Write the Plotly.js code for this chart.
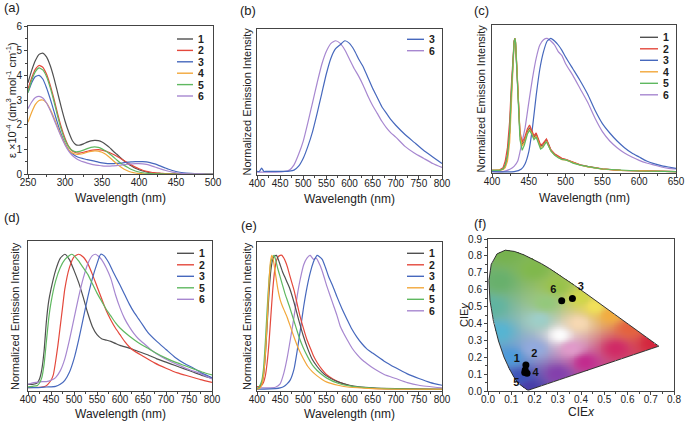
<!DOCTYPE html>
<html><head><meta charset="utf-8">
<script src="https://cdn.plot.ly/plotly-3.0.1.min.js"></script>
<style>html,body{margin:0;padding:0;background:#fff}#chart{width:685px;height:424px}</style>
</head><body><div id="chart"></div>
<script>
// ---------- (a) absorption ----------
const aX = [250,255,260,265,270,275,280,285,290,295,300,305,310,315,320,325,330,335,340,345,350,355,360,365,370,375,380,385,390,395,400,405,410,415,420,425,430,435,440,445,450,460,470,480,490,500];
const a1 = [3.7,4.2,4.6,4.85,4.9,4.75,4.4,3.9,3.3,2.7,2.15,1.7,1.35,1.18,1.17,1.22,1.29,1.34,1.36,1.35,1.3,1.2,1.08,0.93,0.8,0.66,0.53,0.42,0.32,0.23,0.17,0.12,0.08,0.05,0.035,0.025,0.02,0.015,0.01,0.01,0.01,0.005,0,0,0,0];
const a2 = [3.45,3.9,4.25,4.4,4.33,4.05,3.6,3.05,2.45,1.9,1.45,1.12,0.93,0.86,0.85,0.88,0.92,0.96,0.98,0.99,0.97,0.93,0.87,0.8,0.72,0.63,0.54,0.45,0.36,0.28,0.21,0.15,0.11,0.08,0.055,0.04,0.03,0.02,0.015,0.01,0.01,0.005,0,0,0,0];
const a3 = [3.3,3.7,3.95,4.0,3.85,3.5,3.05,2.55,2.05,1.6,1.25,0.98,0.82,0.72,0.66,0.62,0.58,0.55,0.52,0.48,0.45,0.43,0.42,0.42,0.43,0.44,0.46,0.48,0.49,0.5,0.5,0.5,0.49,0.46,0.42,0.37,0.31,0.25,0.19,0.14,0.1,0.05,0.025,0.01,0.005,0];
const a4 = [2.1,2.5,2.82,2.98,3.0,2.88,2.62,2.28,1.9,1.53,1.22,0.98,0.85,0.8,0.8,0.83,0.88,0.92,0.94,0.93,0.88,0.8,0.68,0.55,0.41,0.29,0.19,0.12,0.07,0.04,0.02,0.01,0,0,0,0,0,0,0,0,0,0,0,0,0,0];
const a5 = [3.3,3.8,4.15,4.3,4.22,3.95,3.5,2.95,2.35,1.8,1.38,1.1,0.95,0.9,0.92,0.97,1.03,1.08,1.1,1.08,1.02,0.93,0.82,0.7,0.57,0.45,0.35,0.26,0.18,0.12,0.08,0.05,0.03,0.02,0.01,0.005,0.005,0,0,0,0,0,0,0,0,0];
const a6 = [2.65,2.92,3.1,3.15,3.08,2.88,2.58,2.22,1.85,1.5,1.18,0.93,0.75,0.63,0.55,0.49,0.44,0.4,0.37,0.35,0.33,0.32,0.32,0.33,0.34,0.36,0.38,0.4,0.41,0.42,0.42,0.41,0.39,0.35,0.3,0.25,0.2,0.15,0.11,0.075,0.05,0.02,0.01,0.005,0,0];

// ---------- (b) emission 3, 6 ----------
const b3x = [400,405,410,415,420,440,460,470,480,490,500,510,520,530,540,550,560,570,580,590,600,610,620,630,640,650,660,670,680,690,700,720,740,760,780,800];
const b3y = [0.01,0.01,0.035,0.01,0.01,0.01,0.01,0.012,0.02,0.05,0.11,0.2,0.31,0.45,0.6,0.75,0.87,0.94,0.97,1.0,0.98,0.93,0.86,0.8,0.72,0.64,0.57,0.5,0.45,0.4,0.36,0.29,0.23,0.17,0.12,0.07];
const b6x = [400,420,440,460,470,480,490,500,510,520,530,540,550,560,570,580,590,600,610,620,630,640,650,660,670,680,690,700,720,740,760,780,800];
const b6y = [0.005,0.005,0.005,0.01,0.02,0.06,0.14,0.24,0.38,0.53,0.68,0.82,0.92,0.98,1.0,0.98,0.93,0.86,0.79,0.73,0.66,0.58,0.51,0.45,0.39,0.34,0.30,0.27,0.2,0.15,0.11,0.07,0.04];

// ---------- (c) emission 1-6 ----------
const cXs = [400,410,415,418,421,424,426,428,430,431,432,434,436,438,441,444,448,451,454,457,460,463,466,469,472,474,477,480,485,490,495,500,505,510,520,530,540,550,575,600,650];
const c1 = [0.01,0.01,0.02,0.05,0.12,0.3,0.55,0.8,0.97,1.0,0.97,0.75,0.45,0.28,0.2,0.23,0.3,0.33,0.3,0.26,0.28,0.24,0.19,0.2,0.23,0.24,0.2,0.16,0.13,0.11,0.095,0.09,0.08,0.065,0.05,0.038,0.03,0.02,0.01,0.005,0.0];
const c2 = [0.01,0.012,0.03,0.08,0.18,0.38,0.62,0.85,0.98,1.0,0.96,0.74,0.46,0.3,0.22,0.25,0.32,0.35,0.31,0.27,0.29,0.25,0.2,0.21,0.235,0.245,0.205,0.165,0.135,0.115,0.1,0.092,0.082,0.067,0.052,0.04,0.031,0.021,0.01,0.005,0.0];
const c4 = [0.01,0.01,0.015,0.03,0.08,0.22,0.47,0.76,0.96,1.0,0.98,0.77,0.46,0.28,0.19,0.22,0.29,0.32,0.29,0.25,0.27,0.23,0.18,0.19,0.22,0.23,0.19,0.155,0.125,0.105,0.09,0.088,0.078,0.063,0.048,0.036,0.028,0.019,0.01,0.005,0.0];
const c5 = [0.01,0.01,0.02,0.05,0.12,0.3,0.56,0.8,0.97,1.0,0.97,0.73,0.42,0.24,0.16,0.2,0.28,0.31,0.28,0.24,0.26,0.22,0.17,0.18,0.21,0.225,0.19,0.155,0.125,0.105,0.092,0.088,0.078,0.064,0.049,0.037,0.029,0.02,0.01,0.005,0.0];
const c3x = [400,430,440,445,450,455,460,465,470,475,480,485,490,495,500,510,520,530,540,550,560,570,580,590,600,610,620,630,640,650];
const c3 = [0.0,0.0,0.02,0.06,0.15,0.33,0.57,0.77,0.9,0.98,1.0,0.98,0.95,0.91,0.86,0.77,0.68,0.58,0.46,0.36,0.29,0.23,0.18,0.14,0.11,0.08,0.06,0.045,0.035,0.025];
const c6x = [400,415,425,430,435,440,445,450,455,460,465,470,475,480,485,490,495,500,510,520,530,540,550,560,570,580,590,600,610,620,630,640,650];
const c6 = [0.0,0.0,0.02,0.04,0.08,0.2,0.33,0.52,0.7,0.85,0.95,0.99,1.0,0.98,0.95,0.9,0.87,0.81,0.72,0.62,0.52,0.4,0.3,0.23,0.18,0.14,0.11,0.085,0.065,0.05,0.035,0.025,0.02];

// ---------- (d) emission 1,2,3,5,6 ----------
const d1x = [400,410,420,425,430,435,440,445,450,460,470,480,490,500,510,520,530,540,550,560,570,580,590,600,620,640,660,680,700,720,740,760,780,800];
const d1 = [0.03,0.03,0.04,0.07,0.14,0.28,0.5,0.65,0.74,0.88,0.97,1.0,0.96,0.88,0.79,0.68,0.56,0.46,0.40,0.37,0.36,0.35,0.335,0.32,0.3,0.275,0.25,0.22,0.195,0.17,0.145,0.12,0.095,0.075];
const d2x = [400,430,440,450,455,460,465,470,475,480,490,500,510,520,530,540,550,560,570,580,590,600,610,620,630,650,675,700,725,750,775,800];
const d2 = [0.005,0.01,0.02,0.06,0.1,0.2,0.32,0.46,0.6,0.74,0.9,0.98,1.0,0.98,0.93,0.85,0.76,0.67,0.58,0.51,0.45,0.40,0.35,0.31,0.28,0.24,0.19,0.15,0.115,0.09,0.065,0.045];
const d3x = [400,420,440,460,470,480,490,500,510,520,530,540,550,558,565,575,585,600,610,620,630,640,650,660,680,700,720,740,760,780,800];
const d3 = [0.005,0.005,0.01,0.015,0.03,0.06,0.12,0.22,0.36,0.52,0.68,0.82,0.93,1.0,0.99,0.94,0.87,0.77,0.7,0.63,0.57,0.52,0.47,0.42,0.35,0.29,0.23,0.185,0.15,0.11,0.08];
const d5x = [400,410,420,425,430,435,440,445,450,460,470,480,490,495,500,510,520,530,540,550,560,570,580,590,600,620,640,660,680,700,720,740,760,780,800];
const d5 = [0.01,0.015,0.02,0.04,0.08,0.18,0.35,0.52,0.64,0.8,0.9,0.96,0.99,1.0,0.99,0.95,0.9,0.85,0.78,0.71,0.65,0.59,0.54,0.49,0.45,0.39,0.34,0.3,0.26,0.225,0.195,0.17,0.145,0.12,0.1];
const d6x = [400,410,420,430,440,450,460,470,480,490,500,510,520,530,540,547,555,560,570,580,590,600,610,620,630,640,650,670,690,710,730,750,775,800];
const d6 = [0.03,0.04,0.045,0.05,0.05,0.06,0.08,0.13,0.22,0.36,0.52,0.68,0.82,0.93,0.99,1.0,0.98,0.96,0.9,0.82,0.7,0.6,0.52,0.46,0.41,0.37,0.34,0.28,0.235,0.2,0.17,0.14,0.11,0.07];

// ---------- (e) emission 1-6 ----------
const e1x = [400,405,410,414,418,422,426,430,434,438,442,446,450,455,460,465,470,480,490,500,510,520,530,540,550,575,600,650,700,800];
const e1 = [0.0,0.01,0.04,0.1,0.25,0.48,0.72,0.89,0.97,0.995,1.0,0.97,0.93,0.88,0.84,0.8,0.76,0.65,0.52,0.4,0.3,0.22,0.17,0.13,0.1,0.055,0.03,0.01,0.004,0];
const e2x = [400,405,410,414,418,422,426,430,434,438,442,446,450,454,458,462,466,470,475,480,486,492,500,508,515,522,530,540,550,565,580,600,620,650,700,800];
const e2 = [0.02,0.02,0.03,0.05,0.1,0.2,0.35,0.55,0.74,0.88,0.96,0.99,1.0,1.0,0.98,0.95,0.91,0.86,0.8,0.74,0.65,0.56,0.46,0.37,0.31,0.25,0.2,0.15,0.11,0.075,0.05,0.028,0.015,0.007,0.002,0];
const e3x = [400,440,450,458,465,472,480,487,494,501,508,515,522,526,530,535,541,548,555,564,573,584,595,605,616,627,638,650,675,700,725,750,775,800];
const e3 = [0.0,0.005,0.01,0.02,0.04,0.07,0.15,0.29,0.45,0.62,0.76,0.87,0.95,0.98,1.0,0.99,0.97,0.91,0.84,0.77,0.69,0.6,0.52,0.45,0.39,0.34,0.3,0.27,0.21,0.16,0.115,0.08,0.05,0.03];
const e4x = [400,405,410,414,418,422,426,429,432,435,440,445,450,455,460,465,470,480,490,500,510,520,530,540,550,575,600,650,700,800];
const e4 = [0.0,0.005,0.03,0.1,0.26,0.5,0.8,0.95,1.0,0.97,0.86,0.75,0.67,0.62,0.58,0.54,0.49,0.39,0.3,0.23,0.17,0.13,0.1,0.075,0.055,0.03,0.015,0.005,0,0];
const e5x = [400,405,410,414,418,422,426,430,434,437,440,445,450,455,460,465,470,480,490,500,510,520,530,540,550,575,600,650,700,800];
const e5 = [0.0,0.02,0.06,0.15,0.35,0.6,0.82,0.95,0.99,1.0,0.97,0.9,0.84,0.78,0.72,0.67,0.62,0.51,0.4,0.31,0.24,0.18,0.14,0.11,0.085,0.045,0.025,0.008,0.003,0];
const e6x = [400,420,440,450,458,465,472,480,487,494,501,508,515,522,528,537,544,551,558,566,573,580,587,595,605,616,627,638,650,675,700,725,750,800];
const e6 = [0.01,0.01,0.015,0.04,0.12,0.23,0.37,0.54,0.7,0.83,0.93,0.98,1.0,0.97,0.98,0.92,0.85,0.77,0.7,0.62,0.55,0.47,0.42,0.37,0.31,0.26,0.22,0.19,0.16,0.11,0.08,0.05,0.03,0.01];

// ---------- (f) CIE 1931 ----------
const cieLabels = ['1','2','3','4','5','6'];
const cieX = [0.160,0.163,0.363,0.168,0.158,0.317];
const cieY = [0.125,0.154,0.547,0.105,0.110,0.535];
const locusX = [0.1741,0.1733,0.1714,0.1689,0.1644,0.1566,0.1440,0.1355,0.1241,0.1096,0.0913,0.0687,0.0454,0.0235,0.0082,0.0039,0.0139,0.0389,0.0743,0.1142,0.1547,0.1929,0.2296,0.2658,0.3016,0.3373,0.3731,0.4087,0.4441,0.4788,0.5125,0.5448,0.5752,0.6029,0.6270,0.6482,0.6658,0.6915,0.7079,0.7190,0.7260,0.7300,0.7334,0.7347];
const locusY = [0.0050,0.0048,0.0051,0.0069,0.0109,0.0177,0.0297,0.0399,0.0578,0.0868,0.1327,0.2007,0.2950,0.4127,0.5384,0.6548,0.7502,0.8120,0.8338,0.8262,0.8059,0.7816,0.7543,0.7243,0.6923,0.6589,0.6245,0.5896,0.5547,0.5202,0.4866,0.4544,0.4242,0.3965,0.3725,0.3514,0.3340,0.3083,0.2920,0.2809,0.2740,0.2700,0.2666,0.2653];

// ---------- styles ----------
const W = 685, H = 424;
const FONT = 'Liberation Sans, Arial, sans-serif';
const COL = {'1':'#505050','2':'#e4483c','3':'#4668bd','4':'#f2a73a','5':'#5fb860','6':'#a787d0'};
const AX = '#444';
const P = {
  a:{l:28,r:213,t:26,b:174}, b:{l:257,r:442,t:29,b:175}, c:{l:492,r:676,t:25,b:173},
  d:{l:28,r:212,t:241,b:391}, e:{l:257,r:442,t:242,b:391}, f:{l:488,r:674,t:239,b:391}
};
const ids = {a:['x','y'], b:['x2','y2'], c:['x3','y3'], d:['x4','y4'], e:['x5','y5'], f:['x6','y6']};

const traces = [];
function addLine(p, x, y, key, shape){
  traces.push({type:'scatter', mode:'lines', x:x, y:y, xaxis:ids[p][0], yaxis:ids[p][1],
    line:{color:COL[key], width:1.2, shape:shape||'spline', smoothing:0.5}, hoverinfo:'skip', showlegend:false});
}
[[a1,'1'],[a2,'2'],[a3,'3'],[a4,'4'],[a5,'5'],[a6,'6']].forEach(s=>addLine('a', aX, s[0], s[1]));
addLine('b', b6x, b6y, '6'); addLine('b', b3x, b3y, '3');
addLine('c', c6x, c6, '6'); addLine('c', c3x, c3, '3');
[[c1,'1'],[c2,'2'],[c4,'4'],[c5,'5']].forEach(s=>addLine('c', cXs, s[0], s[1], 'linear'));
addLine('d', d1x, d1, '1'); addLine('d', d2x, d2, '2'); addLine('d', d6x, d6, '6'); addLine('d', d3x, d3, '3'); addLine('d', d5x, d5, '5');
addLine('e', e6x, e6, '6'); addLine('e', e3x, e3, '3'); addLine('e', e2x, e2, '2'); addLine('e', e1x, e1, '1'); addLine('e', e5x, e5, '5'); addLine('e', e4x, e4, '4');

// (f) chromaticity fill (background colouring)
const ANCH = [
 [0.08,0.82,118,178,78],[0.2,0.72,128,184,76],[0.3,0.62,152,194,74],[0.4,0.55,208,214,74],
 [0.46,0.5,240,224,90],[0.53,0.45,242,172,64],[0.61,0.37,228,98,62],[0.71,0.285,212,38,62],
 [0.55,0.25,208,42,102],[0.42,0.17,194,44,142],[0.3,0.1,132,64,172],[0.18,0.02,72,62,168],
 [0.14,0.08,62,84,184],[0.1,0.2,76,154,218],[0.05,0.35,86,180,210],[0.02,0.5,96,180,160],
 [0.05,0.65,104,176,108],[0.31,0.33,252,252,252],[0.22,0.42,158,206,200],[0.39,0.4,246,216,178],
 [0.36,0.25,224,154,202],[0.2,0.25,146,170,222],[0.25,0.52,148,200,124]
];
function insideLocus(px,py){
  let c=false; const n=locusX.length;
  for(let i=0,j=n-1;i<n;j=i++){
    const xi=locusX[i], yi=locusY[i], xj=locusX[j], yj=locusY[j];
    if(((yi>py)!==(yj>py)) && (px < (xj-xi)*(py-yi)/(yj-yi)+xi)) c=!c;
  }
  return c;
}
const STEP = 0.004, NX = 186, NY = 213;
const img = [];
for(let j=0;j<NY;j++){
  const row=[]; const yy = STEP/2 + j*STEP;
  for(let i=0;i<NX;i++){
    const xx = STEP/2 + i*STEP;
    if(!insideLocus(xx,yy)){ row.push([255,255,255,0]); continue; }
    let ws=0,r=0,g=0,b=0;
    for(const a of ANCH){
      const d2=(xx-a[0])*(xx-a[0])+(yy-a[1])*(yy-a[1])+1e-5;
      const w=1/Math.pow(d2,1.3); ws+=w; r+=w*a[2]; g+=w*a[3]; b+=w*a[4];
    }
    row.push([r/ws,g/ws,b/ws,1]);
  }
  img.push(row);
}
traces.push({type:'image', z:img, colormodel:'rgba', x0:STEP/2, dx:STEP, y0:STEP/2, dy:STEP, xaxis:'x6', yaxis:'y6', hoverinfo:'skip'});
traces.push({type:'scatter', mode:'lines', x:locusX.concat([locusX[0]]), y:locusY.concat([locusY[0]]), xaxis:'x6', yaxis:'y6',
  line:{color:'#333', width:1}, hoverinfo:'skip', showlegend:false});
traces.push({type:'scatter', mode:'markers+text', x:cieX, y:cieY, text:cieLabels, xaxis:'x6', yaxis:'y6',
  textposition:['top left','top right','top right','middle right','bottom left','top left'],
  textfont:{size:11, color:'#111', family:FONT, weight:'bold'},
  marker:{color:'#000', size:7}, hoverinfo:'skip', showlegend:false});

// ---------- layout ----------
function xaxis(p, range, dtick, minor, extra){
  const g = P[p];
  return Object.assign({domain:[g.l/W, g.r/W], range:range, anchor:ids[p][1], dtick:dtick, tick0:0,
    showline:true, linecolor:AX, linewidth:1, mirror:true, ticks:'outside', ticklen:3, tickcolor:AX, ticklabelstandoff:-4,
    minor:{ticks:'outside', ticklen:2, tickcolor:AX, dtick:minor},
    showgrid:false, zeroline:false, automargin:false, fixedrange:true,
    tickfont:{size:10, family:FONT, color:'#222'}}, extra||{});
}
function yaxis(p, range, opts){
  const g = P[p];
  return Object.assign({domain:[1-g.b/H, 1-g.t/H], range:range, anchor:ids[p][0],
    showline:true, linecolor:AX, linewidth:1, mirror:true, showgrid:false, zeroline:false, automargin:false, fixedrange:true,
    tickfont:{size:10, family:FONT, color:'#222'}}, opts);
}
const noTicks = {ticks:'', showticklabels:false};

const layout = {
  width:W, height:H, margin:{l:0,r:0,t:0,b:0}, paper_bgcolor:'#fff', plot_bgcolor:'rgba(0,0,0,0)',
  showlegend:false, font:{family:FONT, color:'#222'},
  xaxis:  xaxis('a',[250,500],50,25),
  xaxis2: xaxis('b',[400,800],50,25),
  xaxis3: xaxis('c',[400,650],50,25),
  xaxis4: xaxis('d',[400,800],50,25),
  xaxis5: xaxis('e',[400,800],50,25),
  xaxis6: xaxis('f',[0,0.8],0.1,0.05,{tickformat:'.1f'}),
  yaxis:  yaxis('a',[0,6],{dtick:1, ticks:'outside', ticklen:3, tickcolor:AX, minor:{ticks:'outside',ticklen:2,tickcolor:AX,dtick:0.5}}),
  yaxis2: yaxis('b',[-0.017,1.089],noTicks),
  yaxis3: yaxis('c',[-0.01,1.1],noTicks),
  yaxis4: yaxis('d',[-0.02,1.099],noTicks),
  yaxis5: yaxis('e',[-0.013,1.1],noTicks),
  yaxis6: yaxis('f',[0,0.9],{dtick:0.1, tickformat:'.1f', ticks:'outside', ticklen:3, tickcolor:AX, scaleanchor:false,
            minor:{ticks:'outside',ticklen:2,tickcolor:AX,dtick:0.05}}),
  shapes:[], annotations:[]
};

// axis titles (placed as in the reference)
const NEI = 'Normalized Emission Intensity';
const WL = 'Wavelength (nm)';
function title(text, px, py, angle, size){
  layout.annotations.push({xref:'paper', yref:'paper', x:px/W, y:1-py/H, text:text, textangle:angle||0,
    showarrow:false, xanchor:'center', yanchor:'middle', font:{size:size, family:FONT, color:'#222'}});
}
title(WL, 120.5, 198, 0, 12); title(WL, 349.5, 199, 0, 12); title(WL, 584, 198, 0, 12);
title(WL, 120, 414, 0, 12); title(WL, 349.5, 414, 0, 12); title('CIE<i>x</i>', 581, 412, 0, 12);
title('ε ×10<sup>-4</sup> (dm<sup>3</sup> mol<sup>-1</sup> cm<sup>-1</sup>)', 11, 100, -90, 11);
title(NEI, 246.5, 102, -90, 11); title(NEI, 480.5, 99, -90, 11);
title(NEI, 15, 316, -90, 11); title(NEI, 246.5, 316.5, -90, 11);
title('CIE<i>y</i>', 464, 315, -90, 11);

// panel letters
[['(a)',2,8],['(b)',238,10],['(c)',472,10],['(d)',2,217],['(e)',239,225],['(f)',472,223]].forEach(l=>{
  layout.annotations.push({xref:'paper', yref:'paper', x:l[1]/W, y:1-l[2]/H, text:l[0], showarrow:false,
    xanchor:'left', yanchor:'middle', font:{size:13, family:FONT, color:'#222'}});
});

// manual legends
function legend(keys, lx0, lx1, tx, y0, dy){
  keys.forEach((k,i)=>{
    const y = 1-(y0+i*dy)/H;
    layout.shapes.push({type:'line', xref:'paper', yref:'paper', x0:lx0/W, x1:lx1/W, y0:y, y1:y, line:{color:COL[k], width:1.4}});
    layout.annotations.push({xref:'paper', yref:'paper', x:tx/W, y:y, text:'<b>'+k+'</b>', showarrow:false,
      xanchor:'left', yanchor:'middle', font:{size:10.5, family:FONT, color:'#222'}});
  });
}
legend(['1','2','3','4','5','6'], 177, 193, 196, 39, 11.4);
legend(['3','6'], 407, 424, 427, 39.3, 11.4);
legend(['1','2','3','4','5','6'], 640, 658, 661, 37.3, 11.5);
legend(['1','2','3','5','6'], 177, 194, 197, 253.3, 11.5);
legend(['1','2','3','4','5','6'], 407, 424, 427, 253.3, 11.5);

Plotly.newPlot('chart', traces, layout, {staticPlot:true, displayModeBar:false});
</script></body></html>
